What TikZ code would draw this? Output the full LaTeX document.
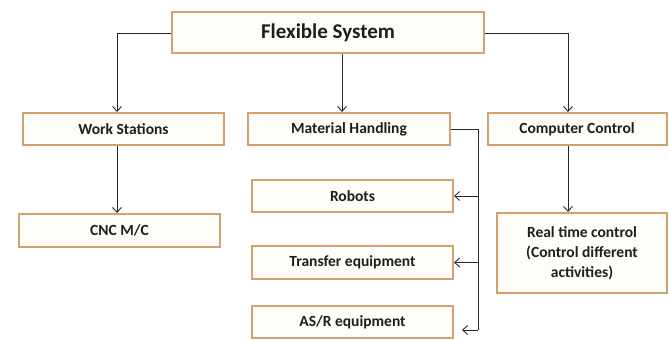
\documentclass[tikz,border=0pt]{standalone}
\usepackage{fontspec}
\setmainfont{Carlito}
\usetikzlibrary{arrows.meta}
\definecolor{boxline}{RGB}{208,162,110}
\definecolor{boxfill}{RGB}{255,253,248}
\definecolor{conn}{RGB}{40,40,40}
\definecolor{txt}{RGB}{30,30,30}
\tikzset{
  box/.style={draw=boxline, fill=boxfill, line width=2pt, rectangle, inner sep=0pt,
    text=txt, font=\fontsize{15.5}{20}\selectfont\bfseries},
  conn/.style={draw=conn, line width=0.9pt},
  arr/.style={conn, -{Straight Barb[length=5pt,width=9pt,line width=0.9pt]}},
}
\begin{document}
\begin{tikzpicture}[x=1pt, y=-1pt]
\useasboundingbox (0,0) rectangle (669,340);
% boxes
\node[box, minimum width=312pt, minimum height=41pt, font=\fontsize{21}{24}\selectfont\bfseries] (fs) at (328,32.5) {Flexible System};
\node[box, minimum width=201pt, minimum height=32pt] (ws) at (123.5,129) {Work Stations};
\node[box, minimum width=202pt, minimum height=32pt] (mh) at (349,129) {Material Handling};
\node[box, minimum width=179pt, minimum height=32pt] (cc) at (577,129) {Computer Control};
\node[box, minimum width=201pt, minimum height=33pt] (cnc) at (119.5,230.5) {CNC M/C};
\node[box, minimum width=201pt, minimum height=32pt] (rob) at (352.5,196) {Robots};
\node[box, minimum width=201pt, minimum height=33pt] (tr) at (352.5,262.5) {Transfer equipment};
\node[box, minimum width=201pt, minimum height=32pt] (asr) at (352.5,322) {AS/R equipment};
\node[box, minimum width=170pt, minimum height=80pt, align=center] (rt) at (582,253) {Real time control\\(Control different\\activities)};
% helper coordinates
\coordinate (wsx) at (117,0);
\coordinate (mhx) at (342,0);
\coordinate (ccx) at (568,0);
\coordinate (bus) at (478,0);
\coordinate (asrbus) at (478,330);
\coordinate (asrtip) at (462,330);
% connectors
\draw[arr] (fs.west |- 0,33) -| (ws.north -| wsx);
\draw[arr] (fs.south -| mhx) -- (mh.north -| mhx);
\draw[arr] (fs.east |- 0,33) -| (cc.north -| ccx);
\draw[arr] (ws.south -| wsx) -- (cnc.north -| wsx);
\draw[arr] (cc.south -| ccx) -- (rt.north -| ccx);
\draw[conn] (mh.east) -| (asrbus);
\draw[arr] (rob.east -| bus) -- (rob.east);
\draw[arr] (tr.east -| bus) -- (tr.east);
\draw[arr] (asrbus) -- (asrtip);
\end{tikzpicture}
\end{document}
